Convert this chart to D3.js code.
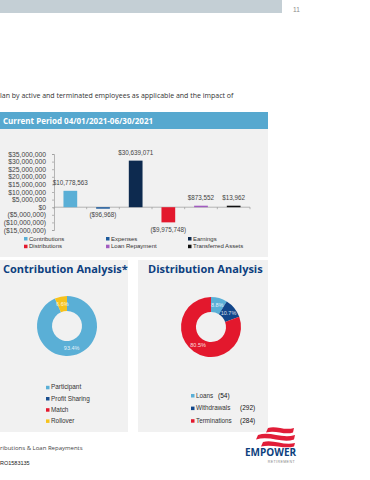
<!DOCTYPE html>
<html>
<head>
<meta charset="utf-8">
<script src="https://cdn.jsdelivr.net/npm/d3@7"></script>
<style>
  body { margin: 0; background: #fff; }
  svg { display: block; }
</style>
</head>
<body>
<div id="page"></div>
<script>
// bar chart data
var categories = ['Contributions', 'Expenses', 'Earnings', 'Distributions', 'Loan Repayment', 'Transferred Assets'];
var values = [10778563, -96968, 30639071, -9975748, 873552, 13962];
var yTicks = [-15000000, -10000000, -5000000, 0, 5000000, 10000000, 15000000, 20000000, 25000000, 30000000, 35000000];

// contribution donut
var contribLabels = ['Participant', 'Profit Sharing', 'Match', 'Rollover'];
var contribPct = [93.4, 0, 0, 6.6];

// distribution donut
var distribLabels = ['Loans', 'Withdrawals', 'Terminations'];
var distribPct = [8.8, 10.7, 80.5];
var distribCounts = ['(54)', '(292)', '(284)'];

var barColors = ['#5aafd6', '#1d5a9c', '#0d2a4f', '#e3182d', '#a25cc0', '#111111'];
var contribColors = ['#5aafd6', '#1a4e8e', '#e3182d', '#f6c21c'];
var distribColors = ['#5aafd6', '#12468a', '#e3182d'];

var sans = 'Liberation Sans, Arial, sans-serif';
var open = 'Open Sans, sans-serif';

var svg = d3.select('#page').append('svg')
    .attr('width', 370)
    .attr('height', 480);

// page furniture
svg.append('rect').attr('x', 0).attr('y', 0).attr('width', 282).attr('height', 13).attr('fill', '#c4cfd5');
svg.append('text').attr('x', 293).attr('y', 12).text('11')
    .style('font', '6.5px ' + sans).attr('fill', '#8a8a8a');

svg.append('text').attr('x', 0).attr('y', 98)
    .text('lan by active and terminated employees as applicable and the impact of')
    .style('font', '7px ' + open).attr('fill', '#333');

svg.append('rect').attr('x', 0).attr('y', 112).attr('width', 268).attr('height', 17).attr('fill', '#56a8cf');
svg.append('text').attr('x', 3).attr('y', 123.5)
    .text('Current Period 04/01/2021-06/30/2021')
    .style('font', 'bold 8px ' + open).attr('fill', '#fff');

svg.append('rect').attr('x', 0).attr('y', 129).attr('width', 268).attr('height', 128).attr('fill', '#f1f1f1');

// ---- bar chart ----
var x = d3.scaleBand()
    .domain(categories)
    .range([54, 250])
    .paddingInner(0.58)
    .paddingOuter(0.29);

var y = d3.scaleLinear()
    .domain([-15000000, 35000000])
    .range([230, 154]);

function money(v) {
    return v < 0 ? '($' + d3.format(',')(-v) + ')' : '$' + d3.format(',')(v);
}

var yAxis = svg.append('g')
    .attr('transform', 'translate(54,0)')
    .call(d3.axisLeft(y).tickValues(yTicks).tickFormat(money).tickSize(2).tickPadding(6));
yAxis.selectAll('text').style('font', '6.8px ' + sans).attr('fill', '#444');
yAxis.selectAll('line, path').attr('stroke', '#9a9a9a').attr('stroke-width', 0.7);

// category axis along zero, ticks between bands
var zero = y(0);
svg.append('line')
    .attr('x1', 54).attr('x2', 250).attr('y1', zero).attr('y2', zero)
    .attr('stroke', '#9a9a9a').attr('stroke-width', 0.7);
svg.selectAll('.sep')
    .data(d3.range(categories.length + 1)).enter()
    .append('line')
      .attr('x1', function(i) { return 54 + i * x.step(); })
      .attr('x2', function(i) { return 54 + i * x.step(); })
      .attr('y1', zero).attr('y2', zero + 2)
      .attr('stroke', '#9a9a9a').attr('stroke-width', 0.7);

var bars = svg.selectAll('.bar')
    .data(values).enter()
    .append('g');

bars.append('rect')
    .attr('x', function(d, i) { return x(categories[i]); })
    .attr('y', function(d) { return d >= 0 ? Math.min(y(d), zero - 1.5) : zero; })
    .attr('width', x.bandwidth())
    .attr('height', function(d) { return Math.max(Math.abs(y(d) - zero), 1.5); })
    .attr('fill', function(d, i) { return barColors[i]; });

bars.append('text')
    .attr('x', function(d, i) { return x(categories[i]) + x.bandwidth() / 2; })
    .attr('y', function(d) { return d >= 0 ? Math.min(y(d), zero - 1.5) - 6 : y(d) + 10; })
    .attr('text-anchor', 'middle')
    .text(money)
    .style('font', '6.3px ' + sans).attr('fill', '#444');

var legend = svg.selectAll('.lg')
    .data(categories).enter()
    .append('g')
      .attr('transform', function(d, i) {
          return 'translate(' + (24 + (i % 3) * 82) + ',' + (237 + Math.floor(i / 3) * 7.7) + ')';
      });
legend.append('rect').attr('width', 3.5).attr('height', 3.5)
    .attr('fill', function(d, i) { return barColors[i]; });
legend.append('text').attr('x', 5).attr('y', 3.6).text(function(d) { return d; })
    .style('font', '6px ' + sans).attr('fill', '#333');

// ---- donut panels ----
svg.append('rect').attr('x', 0).attr('y', 260).attr('width', 128).attr('height', 172).attr('fill', '#f1f1f1');
svg.append('rect').attr('x', 138).attr('y', 260).attr('width', 130).attr('height', 172).attr('fill', '#f1f1f1');

svg.append('text').attr('x', 3).attr('y', 273).text('Contribution Analysis*')
    .style('font', 'bold 11px ' + open).attr('fill', '#0d3f7f');
svg.append('text').attr('x', 148).attr('y', 273).text('Distribution Analysis')
    .style('font', 'bold 11px ' + open).attr('fill', '#0d3f7f');

var pie = d3.pie().sort(null).value(function(d) { return d; });
var arc = d3.arc().innerRadius(15).outerRadius(30);

function donut(cx, cy, data, colors) {
    var g = svg.append('g').attr('transform', 'translate(' + cx + ',' + cy + ')');
    var arcs = pie(data);
    g.selectAll('path')
        .data(arcs).enter()
        .append('path')
          .attr('d', arc)
          .attr('fill', function(d, i) { return colors[i]; });
    g.selectAll('text')
        .data(arcs.filter(function(d) { return d.data > 0; })).enter()
        .append('text')
          .attr('transform', function(d) { return 'translate(' + arc.centroid(d) + ')'; })
          .attr('dy', '0.35em')
          .attr('text-anchor', 'middle')
          .text(function(d) { return d.data.toFixed(1) + '%'; })
          .style('font', '5.5px ' + sans).attr('fill', '#fff').attr('fill-opacity', 0.85);
}

donut(67, 326, contribPct, contribColors);
donut(211, 327, distribPct, distribColors);

var cl = svg.selectAll('.cl')
    .data(contribLabels).enter()
    .append('g')
      .attr('transform', function(d, i) { return 'translate(46,' + (385.8 + i * 11.2) + ')'; });
cl.append('rect').attr('width', 3.5).attr('height', 3.5)
    .attr('fill', function(d, i) { return contribColors[i]; });
cl.append('text').attr('x', 5).attr('y', 3.6).text(function(d) { return d; })
    .style('font', '6.4px ' + sans).attr('fill', '#333');

var dl = svg.selectAll('.dl')
    .data(distribLabels).enter()
    .append('g')
      .attr('transform', function(d, i) { return 'translate(191,' + (394 + i * 12.6) + ')'; });
dl.append('rect').attr('width', 3.5).attr('height', 3.5)
    .attr('fill', function(d, i) { return distribColors[i]; });
dl.append('text').attr('x', 5).attr('y', 3.6).text(function(d) { return d; })
    .style('font', '6.3px ' + sans).attr('fill', '#333');
// counts sit on 22px tab stops after the label
dl.append('text')
    .attr('x', function() {
        var w = this.parentNode.querySelector('text').getComputedTextLength();
        return 5 + Math.ceil((w + 4) / 22) * 22;
    })
    .attr('y', 3.6)
    .text(function(d, i) { return distribCounts[i]; })
    .style('font', '6.5px ' + sans).attr('fill', '#111');

// footer
svg.append('text').attr('x', 0).attr('y', 450).text('ributions & Loan Repayments')
    .style('font', '6px ' + open).attr('fill', '#444');
svg.append('text').attr('x', 0).attr('y', 465).text('RO1583135')
    .style('font', '5.5px ' + sans).attr('fill', '#222');

// logo
var logo = svg.append('g');
var waves = [
    'M268,428 C276,425 284,431 294,428 L293,432.5 C284,435.5 276,429.5 266,432.5 Z',
    'M258,435 C270,431 282,439 295,435 L294,439.5 C282,443.5 270,435.5 256,439.5 Z',
    'M263,442 C273,439 284,446 295,443 L294,446.5 C284,449.5 273,443.5 261,446.5 Z'
];
logo.selectAll('path').data(waves).enter().append('path')
    .attr('d', function(d) { return d; })
    .attr('fill', '#e11d38');
logo.append('text').attr('x', 245).attr('y', 456).text('EMPOWER')
    .style('font', 'bold 10px ' + open).attr('fill', '#0d3f7e');
logo.append('text').attr('x', 295).attr('y', 463).attr('text-anchor', 'end').text('RETIREMENT')
    .style('font', '3.6px ' + sans).attr('fill', '#888').attr('letter-spacing', 0.4);
</script>
</body>
</html>
